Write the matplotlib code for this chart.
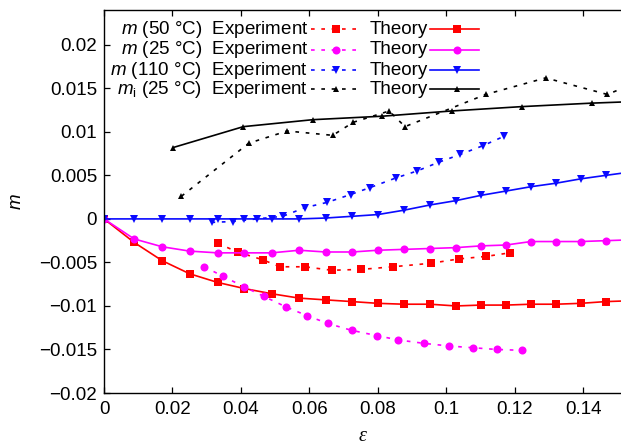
"""
plot.py -- magnetisation-like order parameter m vs strain (experiment vs theory).

Renders head-less with Agg, writes out.png (621x447).
"""

import numpy as np
import matplotlib
matplotlib.use("Agg")
import matplotlib.pyplot as plt
from matplotlib.lines import Line2D

# ----------------------------------------------------------------------------
# data
eps_theory = [0, 0.0088, 0.017, 0.025, 0.0332, 0.041, 0.049, 0.057, 0.0647,
              0.0725, 0.080, 0.0876, 0.0952, 0.1028, 0.110, 0.1174, 0.1247,
              0.132, 0.1392, 0.1465, 0.154]
m50_theory = [0, -0.0027, -0.0048, -0.0063, -0.0073, -0.0080, -0.0086, -0.0091,
              -0.0093, -0.0095, -0.0097, -0.0098, -0.0098, -0.0100, -0.0099,
              -0.0099, -0.0098, -0.0098, -0.0097, -0.0095, -0.0094]
m25_theory = [0, -0.0023, -0.0032, -0.0037, -0.0039, -0.0039, -0.0039, -0.0036,
              -0.0038, -0.0038, -0.0036, -0.0035, -0.0034, -0.0033, -0.0031,
              -0.0030, -0.0026, -0.0026, -0.0026, -0.0025, -0.0024]
m110_theory = [0, 0, 0, 0, 0, 0, 0, 0, 0.0001, 0.0003, 0.0005, 0.0010, 0.0016,
               0.0021, 0.0027, 0.0032, 0.0037, 0.0041, 0.0046, 0.0050, 0.0054]

eps_mi_theory = [0.0202, 0.0407, 0.061, 0.0813, 0.1015, 0.122, 0.1424, 0.163]
mi_theory = [0.0082, 0.0106, 0.0114, 0.0118, 0.0124, 0.0129, 0.0133, 0.0136]

eps_m50_exp = [0.0332, 0.039, 0.0464, 0.0514, 0.0587, 0.0665, 0.0752, 0.0843,
               0.0954, 0.1036, 0.1117, 0.1185]
m50_exp = [-0.0028, -0.0038, -0.0047, -0.0055, -0.0055, -0.0059, -0.0058,
           -0.0055, -0.0051, -0.0046, -0.0043, -0.0039]

eps_m25_exp = [0.0293, 0.0348, 0.0409, 0.0467, 0.0531, 0.0592, 0.0653, 0.0723,
               0.0796, 0.0859, 0.0935, 0.1008, 0.1078, 0.1147, 0.1222]
m25_exp = [-0.0055, -0.0066, -0.0078, -0.0089, -0.0101, -0.0111, -0.0120,
           -0.0128, -0.0134, -0.0139, -0.0143, -0.0146, -0.0148, -0.0150,
           -0.0151]

eps_m110_exp = [0.0314, 0.0376, 0.0446, 0.0522, 0.0587, 0.0652, 0.072, 0.0777,
                0.0852, 0.0914, 0.0977, 0.104, 0.1106, 0.1169]
m110_exp = [-0.0004, -0.0003, 0.0, 0.0003, 0.0013, 0.0019, 0.0028, 0.0036,
            0.0047, 0.0055, 0.0065, 0.0074, 0.0084, 0.0095]

eps_mi_exp = [0.0226, 0.0423, 0.0535, 0.0668, 0.0728, 0.0833, 0.0879, 0.1115,
              0.129, 0.147, 0.1545]
mi_exp = [0.0026, 0.0087, 0.0101, 0.0096, 0.0111, 0.0124, 0.0106, 0.0143,
          0.0162, 0.0143, 0.0155]

series_labels = [r"$m$ (50 °C)", r"$m$ (25 °C)", r"$m$ (110 °C)",
                 r"$m_{\mathrm{i}}$ (25 °C)"]

xticks = [0, 0.02, 0.04, 0.06, 0.08, 0.1, 0.12, 0.14]
xticklabels = ["0", "0.02", "0.04", "0.06", "0.08", "0.1", "0.12", "0.14"]
yticks = [0.02, 0.015, 0.01, 0.005, 0, -0.005, -0.01, -0.015, -0.02]
yticklabels = ["0.02", "0.015", "0.01", "0.005", "0",
               "\u22120.005", "\u22120.01", "\u22120.015", "\u22120.02"]

# ----------------------------------------------------------------------------
plt.rcParams["font.family"] = ["Liberation Sans", "DejaVu Sans"]
plt.rcParams["mathtext.fontset"] = "custom"
plt.rcParams["mathtext.rm"] = "Liberation Sans"
plt.rcParams["mathtext.it"] = "Liberation Sans:italic"
FS = 13.5

RED, MAG, BLUE, BLK = "#ff0000", "#ff00ff", "#0a0aff", "#000000"
DASH = (0, (2.2, 4.0))

# (exp x, exp y, theory x, theory y, colour, marker, size)
series = [
    (eps_m50_exp, m50_exp, eps_theory, m50_theory, RED, "s", 6.3),
    (eps_m25_exp, m25_exp, eps_theory, m25_theory, MAG, "o", 5.8),
    (eps_m110_exp, m110_exp, eps_theory, m110_theory, BLUE, "v", 5.2),
    (eps_mi_exp, mi_exp, eps_mi_theory, mi_theory, BLK, "^", 5.0),
]

fig = plt.figure(figsize=(6.21, 4.47), dpi=100)
ax = fig.add_axes([104 / 621, 54 / 447, 517 / 621, 383 / 447])

for xe, ye, xt, yt, c, mk, ms in series:
    ax.plot(xt, yt, color=c, lw=1.2, marker=mk, ms=ms, mew=0)
    ax.plot(xe, ye, color=c, lw=1.2, ls=DASH, marker=mk, ms=ms, mew=0)

ax.set_xlim(0, 0.1510)
ax.set_ylim(-0.02, 0.024)
ax.set_xticks(xticks)
ax.set_xticklabels(xticklabels)
ax.set_yticks(yticks)
ax.set_yticklabels(yticklabels)
ax.tick_params(direction="in", top=True, right=False, length=4.5, width=0.9,
               labelsize=FS)
ax.tick_params(axis="y", pad=5)
ax.tick_params(axis="x", pad=6)
ax.spines["right"].set_visible(False)
for s in ("left", "bottom", "top"):
    ax.spines[s].set_linewidth(1.0)

ax.set_ylabel(r"$m$", fontsize=FS, labelpad=10)
ax.set_xlabel("\u03b5", fontsize=FS + 1, family="Liberation Serif",
              style="italic", labelpad=6)

# gnuplot-style key: right-aligned labels, sample after the label
rows_y = [0.9496, 0.8956, 0.8433, 0.7930]
for (xe, ye, xt, yt, c, mk, ms), lab, y in zip(series, series_labels, rows_y):
    ax.text(0.3946, y, lab + "  Experiment", transform=ax.transAxes,
            ha="right", va="center", fontsize=FS)
    ax.text(0.6267, y, "Theory", transform=ax.transAxes,
            ha="right", va="center", fontsize=FS)
    ax.add_line(Line2D([0.400, 0.4894], [y, y], transform=ax.transAxes,
                       color=c, lw=1.2, ls=DASH, clip_on=False))
    ax.add_line(Line2D([0.4487], [y], transform=ax.transAxes, color=c,
                       marker=mk, ms=ms, mew=0, ls="none", clip_on=False))
    ax.add_line(Line2D([0.6306, 0.7253], [y, y], transform=ax.transAxes,
                       color=c, lw=1.2, clip_on=False))
    ax.add_line(Line2D([0.6828], [y], transform=ax.transAxes, color=c,
                       marker=mk, ms=ms, mew=0, ls="none", clip_on=False))

fig.savefig("out.png", dpi=100)
plt.close(fig)
